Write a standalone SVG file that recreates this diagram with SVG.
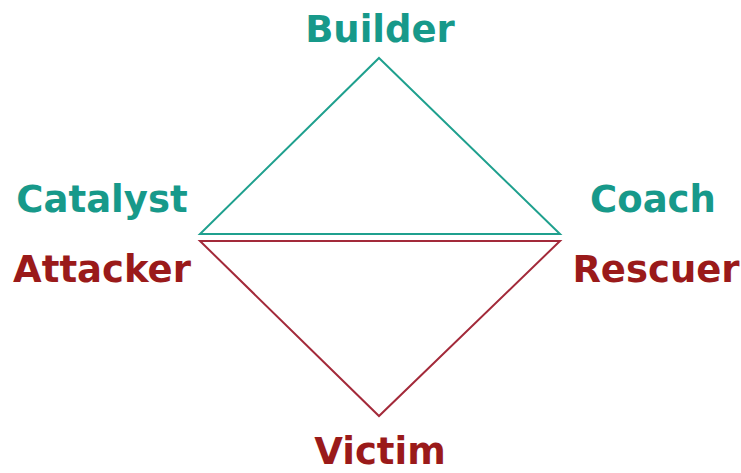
<svg xmlns="http://www.w3.org/2000/svg" width="741" height="473" viewBox="0 0 741 473">
<style>
.t{font-family:"DejaVu Sans",Verdana,sans-serif;font-weight:bold;font-size:37px;text-anchor:middle}
.teal{fill:#17998a}
.red{fill:#9a1a1a}
.lt{fill:none;stroke:#1fa08e;stroke-width:2}
.lr{fill:none;stroke:#a32a3a;stroke-width:2}
</style>
<rect width="741" height="473" fill="#ffffff"/>
<g id="connectors">
<polygon class="lt" points="379,58 560,234 200,234"/>
<polygon class="lr" points="200,241 560,241 379,416"/>
</g>
<g id="builder"><text class="t teal" x="380" y="42">Builder</text></g>
<g id="catalyst"><text class="t teal" x="102" y="212">Catalyst</text></g>
<g id="coach"><text class="t teal" x="653" y="212">Coach</text></g>
<g id="attacker"><text class="t red" x="102" y="282">Attacker</text></g>
<g id="rescuer"><text class="t red" x="656" y="282">Rescuer</text></g>
<g id="victim"><text class="t red" x="380" y="464">Victim</text></g>
</svg>
